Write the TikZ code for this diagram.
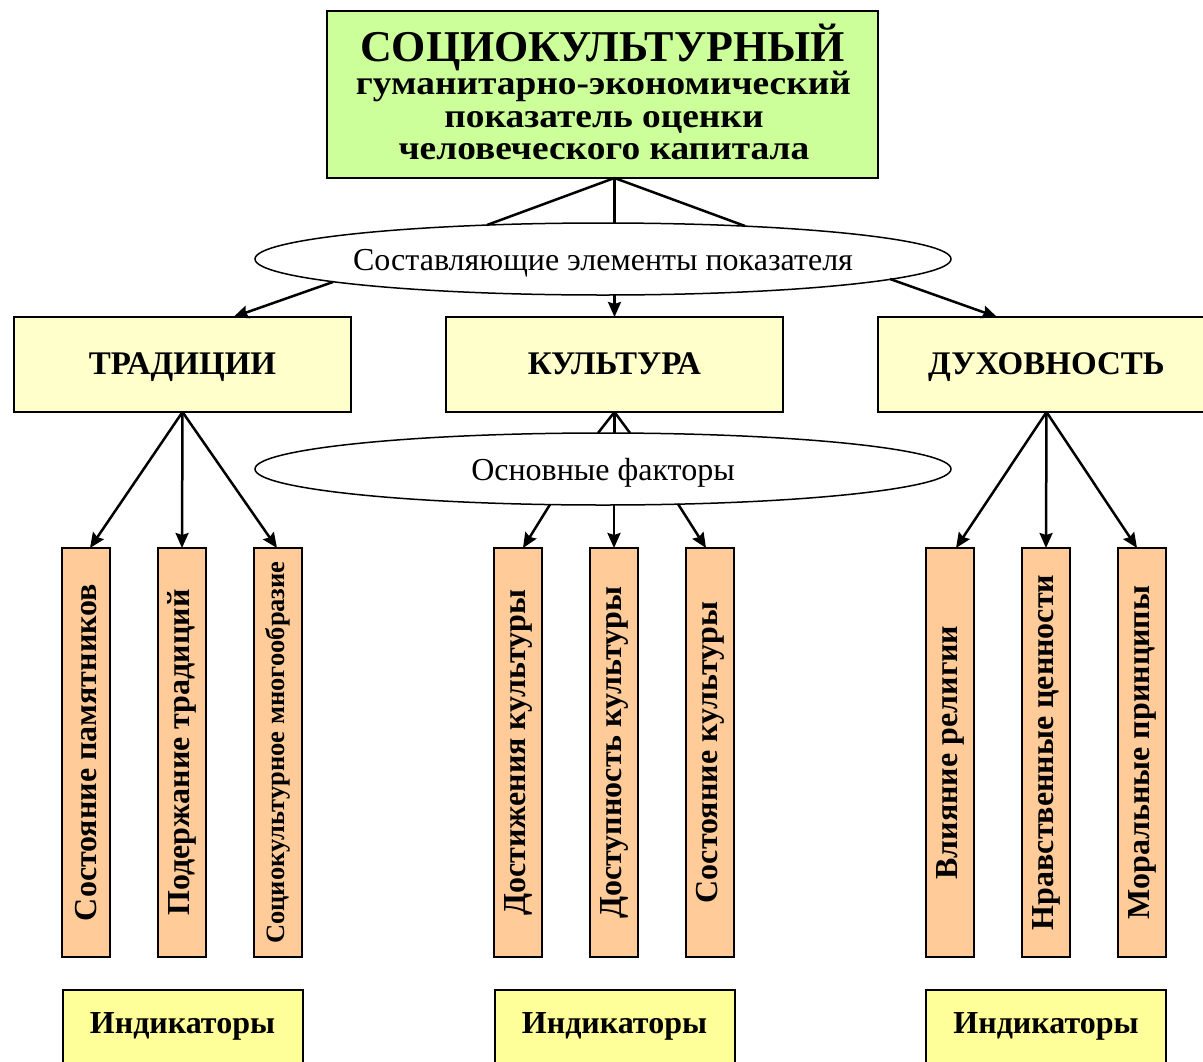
\documentclass[tikz,border=0pt]{standalone}
\usepackage{fontspec}
\setmainfont{Liberation Serif}
\usetikzlibrary{arrows.meta,shapes.geometric,calc}
\definecolor{topgreen}{HTML}{CCFF99}
\definecolor{lvlyellow}{HTML}{FFFFCC}
\definecolor{indorange}{HTML}{FFCC99}
\definecolor{indyellow}{HTML}{FFFF99}
\begin{document}
\begin{tikzpicture}[x=1pt,y=-1pt,
  box/.style={draw=black, line width=2pt, inner sep=0pt, outer sep=0pt},
  topbox/.style={box, fill=topgreen, minimum width=551pt, minimum height=167pt},
  lvlbox/.style={box, fill=lvlyellow, minimum width=337pt, minimum height=95pt},
  smallbox/.style={box, fill=indorange, minimum width=48pt, minimum height=409pt},
  indbox/.style={box, fill=indyellow, minimum width=240pt, minimum height=90pt},
  oval/.style={draw=black, line width=1.5pt, fill=white, ellipse, inner sep=0pt, outer sep=0pt, minimum width=696pt, minimum height=72pt},
  conn/.style={line width=2.5pt},
  arr/.style={line width=2.5pt, -{Stealth[length=15pt,width=13pt,inset=2pt]}},
  ttlA/.style={anchor=base, inner sep=0pt, font=\bfseries\fontsize{44}{46}\selectfont},
  ttlB/.style={anchor=base, inner sep=0pt, xscale=1.1, font=\bfseries\fontsize{34}{36}\selectfont},
  ovtxt/.style={anchor=base, inner sep=0pt, font=\fontsize{32}{34}\selectfont},
  lvltxt/.style={anchor=base, inner sep=0pt, font=\bfseries\fontsize{33}{35}\selectfont},
  vtxt/.style={rotate=90, inner sep=0pt, font=\bfseries\fontsize{32}{34}\selectfont},
  vtxtsm/.style={rotate=90, inner sep=0pt, font=\bfseries\fontsize{26.5}{28}\selectfont},
  indtxt/.style={anchor=base, inner sep=0pt, font=\bfseries\fontsize{32}{34}\selectfont}
]
\useasboundingbox (0,0) rectangle (1203,1061);
\fill[white] (0,0) rectangle (1203,1061);

% top box
\node[topbox] (top) at (602.5,94.5) {};
\node[ttlA] (tl1) at (602.5,61) {СОЦИОКУЛЬТУРНЫЙ};
\node[ttlB] (tl2) at (603.5,94) {гуманитарно-экономический};
\node[ttlB] (tl3) at (604,127) {показатель оценки};
\node[ttlB] (tl4) at (604,159) {человеческого капитала};

% level 2 boxes
\node[lvlbox] (trad) at (182.5,364.5) {};
\node[lvlbox] (kul) at (614.5,364.5) {};
\node[lvlbox] (duh) at (1046.5,364.5) {};
\node[lvltxt] at (182.5,374) {ТРАДИЦИИ};
\node[lvltxt] at (614.5,374) {КУЛЬТУРА};
\node[lvltxt] at (1046.5,374) {ДУХОВНОСТЬ};

% ellipses
\coordinate (tj) at (top.south -| kul.north);
\node[oval] (e1) at (603,259) {};
\node[ovtxt] at (603,270) {Составляющие элементы показателя};
\draw[conn] (tj) -- ($(e1.center)+(-116,-34)$);
\draw[conn] (tj) -- (e1.north -| tj);
\draw[conn] (tj) -- ($(e1.center)+(142,-33)$);

\node[oval] (e2) at (603,469) {};
\draw[conn] (kul.south) -- ($(e2.north)+(-5,0)$);
\draw[conn] (kul.south) -- (e2.north -| kul.south);
\draw[conn] (kul.south) -- ($(e2.north)+(27,0)$);
\node[ovtxt] at (603,480) {Основные факторы};

% small boxes
\foreach \n/\x in {t1/86,t2/182,t3/278,k1/518,k2/614,k3/710,d1/950,d2/1046,d3/1142}
  \node[smallbox] (\n) at (\x,752.5) {};
\node[vtxt] at (t1) {Состояние памятников};
\node[vtxt] at (t2) {Подержание традиций};
\node[vtxtsm] at (t3) {Социокультурное многообразие};
\node[vtxt] at (k1) {Достижения культуры};
\node[vtxt] at (k2) {Доступность культуры};
\node[vtxt] at (k3) {Состояние культуры};
\node[vtxt] at (d1) {Влияние религии};
\node[vtxt] at (d2) {Нравственные ценности};
\node[vtxt] at (d3) {Моральные принципы};

% indicator boxes
\node[indbox] (i1) at (182.5,1035) {};
\node[indbox] (i2) at (614.5,1035) {};
\node[indbox] (i3) at (1046,1035) {};
\node[indtxt] at (182.5,1033) {Индикаторы};
\node[indtxt] at (614.5,1033) {Индикаторы};
\node[indtxt] at (1046,1033) {Индикаторы};

% arrows
\draw[arr] ($(e1.center)+(-270,23)$) -- ($(trad.north)+(51,0)$);
\draw[arr] (e1.south -| kul.north) -- (kul.north);
\draw[arr] ($(e1.center)+(287,20)$) -- ($(duh.north)+(-49.5,0)$);

\draw[arr] (trad.south) -- ($(t1.north)+(4,0)$);
\draw[arr] (trad.south) -- (t2.north);
\draw[arr] (trad.south) -- ($(t3.north)+(-1,0)$);

\draw[arr] ($(e2.center)+(-53,35.5)$) -- ($(k1.north)+(5,0)$);
\draw[arr] (e2.south -| k2.north) -- (k2.north);
\draw[arr] ($(e2.center)+(75,35)$) -- ($(k3.north)+(-4,0)$);

\draw[arr] (duh.south) -- ($(d1.north)+(6,0)$);
\draw[arr] (duh.south) -- (d2.north);
\draw[arr] (duh.south) -- ($(d3.north)+(-5,0)$);
\end{tikzpicture}
\end{document}
